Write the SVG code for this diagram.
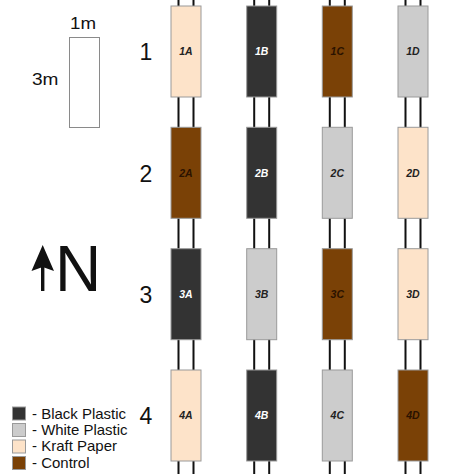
<svg xmlns="http://www.w3.org/2000/svg" width="474" height="474" viewBox="0 0 474 474">
<style>
text{font-family:"Liberation Sans",Arial,sans-serif}
.plot{stroke:#9a9a9a;stroke-width:1}
.bp{fill:#333333}.wp{fill:#cccccc}.kp{fill:#fde3c9}.ct{fill:#7a4106}
.lbl{font-size:10.5px;font-weight:bold;font-style:italic;text-anchor:middle}
.dk{fill:#222222}.lt{fill:#ffffff}.br{fill:#2a1200}
.row{font-size:23px;text-anchor:middle;fill:#111}
.leg{font-size:15px;fill:#111}
.conn line{stroke:#111;stroke-width:2}
</style>
<rect width="474" height="474" fill="#ffffff"/>
<g id="connectors" class="conn">
<line x1="178.5" y1="0" x2="178.5" y2="474"/><line x1="193.5" y1="0" x2="193.5" y2="474"/>
<line x1="254.2" y1="0" x2="254.2" y2="474"/><line x1="269.2" y1="0" x2="269.2" y2="474"/>
<line x1="329.8" y1="0" x2="329.8" y2="474"/><line x1="344.8" y1="0" x2="344.8" y2="474"/>
<line x1="405.5" y1="0" x2="405.5" y2="474"/><line x1="420.5" y1="0" x2="420.5" y2="474"/>
</g>
<g id="scale">
<rect x="69.5" y="37.5" width="30" height="90" fill="#ffffff" stroke="#8a8a8a" stroke-width="1"/>
<text x="70" y="29" font-size="16" textLength="26" lengthAdjust="spacingAndGlyphs" fill="#111">1m</text>
<text x="32" y="84.5" font-size="16" textLength="26.5" lengthAdjust="spacingAndGlyphs" fill="#111">3m</text>
</g>
<g id="north">
<rect x="41" y="266" width="3.4" height="25" fill="#111"/>
<polygon points="42.7,245 54,271 42.7,267 31.5,271" fill="#111"/>
<text x="55" y="291" font-size="64" fill="#111">N</text>
</g>
<g id="rows">
<text class="row" x="146" y="60">1</text>
<text class="row" x="146" y="182">2</text>
<text class="row" x="146" y="303">3</text>
<text class="row" x="146" y="423.5">4</text>
</g>
<g id="plot-1A"><rect class="plot kp" x="171" y="6" width="30" height="91"/><text class="lbl dk" x="186" y="55">1A</text></g>
<g id="plot-1B"><rect class="plot bp" x="246.7" y="6" width="30" height="91"/><text class="lbl lt" x="261.7" y="55">1B</text></g>
<g id="plot-1C"><rect class="plot ct" x="322.3" y="6" width="30" height="91"/><text class="lbl br" x="337.3" y="55">1C</text></g>
<g id="plot-1D"><rect class="plot wp" x="398" y="6" width="30" height="91"/><text class="lbl dk" x="413" y="55">1D</text></g>
<g id="plot-2A"><rect class="plot ct" x="171" y="127.3" width="30" height="91"/><text class="lbl br" x="186" y="176.5">2A</text></g>
<g id="plot-2B"><rect class="plot bp" x="246.7" y="127.3" width="30" height="91"/><text class="lbl lt" x="261.7" y="176.5">2B</text></g>
<g id="plot-2C"><rect class="plot wp" x="322.3" y="127.3" width="30" height="91"/><text class="lbl dk" x="337.3" y="176.5">2C</text></g>
<g id="plot-2D"><rect class="plot kp" x="398" y="127.3" width="30" height="91"/><text class="lbl dk" x="413" y="176.5">2D</text></g>
<g id="plot-3A"><rect class="plot bp" x="171" y="248.7" width="30" height="91"/><text class="lbl lt" x="186" y="298">3A</text></g>
<g id="plot-3B"><rect class="plot wp" x="246.7" y="248.7" width="30" height="91"/><text class="lbl dk" x="261.7" y="298">3B</text></g>
<g id="plot-3C"><rect class="plot ct" x="322.3" y="248.7" width="30" height="91"/><text class="lbl br" x="337.3" y="298">3C</text></g>
<g id="plot-3D"><rect class="plot kp" x="398" y="248.7" width="30" height="91"/><text class="lbl dk" x="413" y="298">3D</text></g>
<g id="plot-4A"><rect class="plot kp" x="171" y="370" width="30" height="91"/><text class="lbl dk" x="186" y="419">4A</text></g>
<g id="plot-4B"><rect class="plot bp" x="246.7" y="370" width="30" height="91"/><text class="lbl lt" x="261.7" y="419">4B</text></g>
<g id="plot-4C"><rect class="plot wp" x="322.3" y="370" width="30" height="91"/><text class="lbl dk" x="337.3" y="419">4C</text></g>
<g id="plot-4D"><rect class="plot ct" x="398" y="370" width="30" height="91"/><text class="lbl br" x="413" y="419">4D</text></g>
<g id="legend">
<rect class="plot bp" x="12.5" y="407" width="13" height="13"/>
<rect class="plot wp" x="12.5" y="423.5" width="13" height="13"/>
<rect class="plot kp" x="12.5" y="440" width="13" height="13"/>
<rect class="plot ct" x="12.5" y="456.5" width="13" height="13"/>
<text class="leg" x="32" y="419" textLength="94" lengthAdjust="spacingAndGlyphs">- Black Plastic</text>
<text class="leg" x="32" y="435" textLength="95.5" lengthAdjust="spacingAndGlyphs">- White Plastic</text>
<text class="leg" x="32" y="451" textLength="85" lengthAdjust="spacingAndGlyphs">- Kraft Paper</text>
<text class="leg" x="32" y="467.5" textLength="57.5" lengthAdjust="spacingAndGlyphs">- Control</text>
</g>
</svg>
